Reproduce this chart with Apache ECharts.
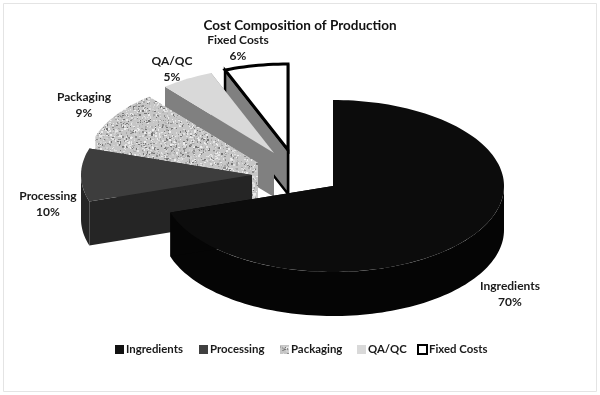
<!DOCTYPE html>
<html><head><meta charset="utf-8">
<style>html,body{margin:0;padding:0;background:#fff}#c{width:600px;height:395px}</style>
<script src="https://cdn.jsdelivr.net/npm/echarts@6/dist/echarts.min.js"></script>
</head><body><div id="c"></div>
<script>
const categories = ['Ingredients', 'Processing', 'Packaging', 'QA/QC', 'Fixed Costs'];
const shares = [70, 10, 9, 5, 6];

// Layout of the projected, exploded pie (separate from the data)
const RX = 171, RY = 86, DEPTH = 44;
const apexes = [[333,186],[252,175],[258,163],[274,153],[288,150]];
const labelPos = [[510,278],[48,188],[84,89],[172,53],[238,32]];
const legendX = [110, 194, 275, 352, 412];
const FONT = 'Lato, "Open Sans", sans-serif';

function speckle() {
  const s = 128, cv = document.createElement('canvas');
  cv.width = cv.height = s;
  const g = cv.getContext('2d');
  g.fillStyle = '#c6c6c6'; g.fillRect(0,0,s,s);
  let h = 12345;
  const next = () => (h = (h * 1103515245 + 12345) & 0x7fffffff) / 0x7fffffff;
  const tones = ['#ececec','#dedede','#d2d2d2','#a6a6a6','#8e8e8e','#e6e6e6','#767676','#b4b4b4'];
  for (let i = 0; i < 3600; i++) {
    g.fillStyle = tones[Math.floor(next()*tones.length)];
    const w = 1 + Math.floor(next()*1.7), t = 1 + Math.floor(next()*1.7);
    g.fillRect(Math.floor(next()*s), Math.floor(next()*s), w, t);
  }
  return cv;
}
const pattern = { image: speckle(), repeat: 'repeat' };

const topFill  = ['#0c0c0c', '#3d3d3d', pattern, '#d9d9d9', '#ffffff'];
const sideFill = ['#050505', '#252525', pattern, '#808080', '#808080'];
const legendFill = ['#111111', '#404040', pattern, '#d9d9d9', '#ffffff'];
const total = shares.reduce((a, b) => a + b, 0);

function startOf(i) {
  let acc = 0;
  for (let k = 0; k < i; k++) acc += shares[k];
  return acc / total * Math.PI * 2;
}

function makeRender(i) {
  return function (params, api) {
    const a0 = startOf(i), a1 = a0 + api.value(0) / total * Math.PI * 2;
    const [cx, cy] = apexes[i];
    const sample = (from, to) => {
      const out = [], n = Math.max(8, Math.ceil((to - from) / 0.03));
      for (let k = 0; k <= n; k++) {
        const a = from + (to - from) * k / n;
        out.push([cx + RX * Math.sin(a), cy - RY * Math.cos(a)]);
      }
      return out;
    };
    const arc = sample(a0, a1);
    const down = p => [p[0], p[1] + DEPTH];
    const apex = [cx, cy], first = arc[0], last = arc[arc.length - 1];
    const outlined = i === 4;
    const faceStyle = outlined
      ? { fill: sideFill[i], stroke: '#000', lineWidth: 2.5, lineJoin: 'miter' }
      : { fill: sideFill[i] };
    const children = [];
    const f0 = Math.max(a0, Math.PI / 2), f1 = Math.min(a1, Math.PI * 1.5);
    if (f1 > f0) {
      const front = sample(f0, f1);
      children.push({ type: 'polygon', shape: { points: front.concat(front.map(down).reverse()) }, style: { fill: sideFill[i] } });
    }
    children.push(
      { type: 'polygon', shape: { points: [apex, last, down(last), down(apex)] }, style: faceStyle },
      { type: 'polygon', shape: { points: [apex, first, down(first), down(apex)] }, style: faceStyle },
      {
        type: 'polygon',
        shape: { points: [apex].concat(arc) },
        style: outlined
          ? { fill: topFill[i], stroke: '#000', lineWidth: 3, lineJoin: 'miter' }
          : { fill: topFill[i] }
      }
    );
    const [lx, ly] = labelPos[i];
    children.push({
      type: 'text',
      style: {
        text: categories[i] + '\n' + api.value(0) + '%',
        x: lx, y: ly, align: 'center', verticalAlign: 'top',
        fill: '#1a1a1a', font: 'bold 12px ' + FONT, lineHeight: 16
      }
    });
    return { type: 'group', children };
  };
}

const series = categories.map((name, i) => ({
  type: 'custom',
  name,
  coordinateSystem: 'none',
  z: 10 - i,
  data: [[shares[i]]],
  dimensions: ['share'],
  renderItem: makeRender(i),
  silent: true,
  itemStyle: i === 4
    ? { color: legendFill[i], borderColor: '#000', borderWidth: 2 }
    : { color: legendFill[i] }
}));

const chart = echarts.init(document.getElementById('c'), null, { renderer: 'canvas' });
chart.setOption({
  animation: false,
  backgroundColor: '#fff',
  title: {
    text: 'Cost Composition of Production',
    left: 'center', top: 14,
    textStyle: { fontFamily: FONT, fontWeight: 'bold', fontSize: 13.5, color: '#111' }
  },
  legend: categories.map((name, i) => ({
    data: [name],
    left: legendX[i], top: 339,
    icon: 'rect',
    itemWidth: 9, itemHeight: 9,
    selectedMode: false,
    textStyle: { fontFamily: FONT, fontWeight: 'bold', fontSize: 11.4, color: '#1a1a1a', padding: [0,0,0,-3] }
  })),
  graphic: [{
    type: 'rect', z: -1, silent: true,
    shape: { x: 3.5, y: 3.5, width: 593, height: 388 },
    style: { fill: '#fff', stroke: '#e4e4e4', lineWidth: 1 }
  }],
  series
});
</script></body></html>
